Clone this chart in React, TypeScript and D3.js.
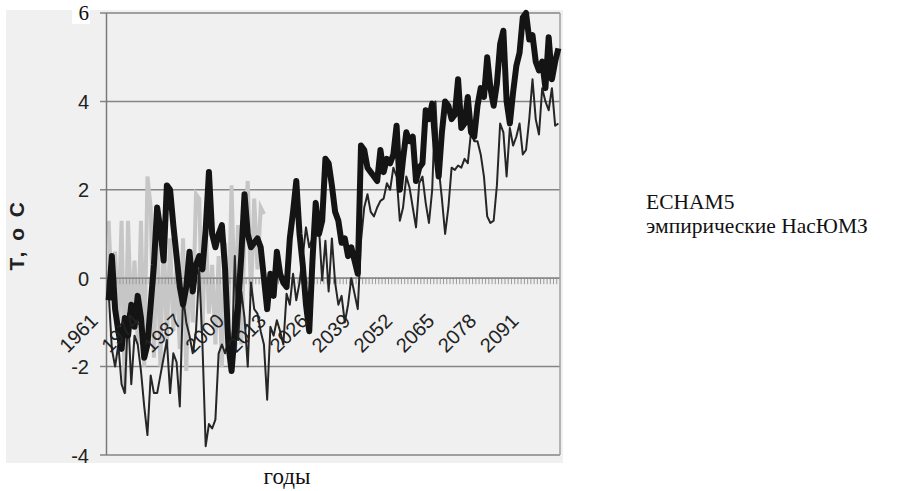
import React from "react";
import * as d3 from "d3";

const years: number[] = d3.range(1961, 2101);

const echam5: number[] = [
  -0.5, 0.5, -0.7, -1.2, -1.6, -0.9, -1.3, -0.6, -1.1, -0.4,
  -0.9, -1.8, -1.5, -0.6, 0.3, 1.6, 1.1, 0.4, 2.1, 2.0,
  1.2, 0.5, -0.2, -0.6, -0.2, 0.6, -0.3, 0.3, 0.5, 0.2,
  1.1, 2.4, 1.0, 0.7, 1.0, 1.2, 0.2, -1.5, -2.1, -1.2,
  -0.6, 0.5, 1.9, 1.0, 0.7, 0.8, 0.9, 0.7, 0.0, -0.7,
  0.1, -0.4, 0.6, 0.1, -0.1, -0.2, 0.9, 1.5, 2.2, 1.0,
  0.3, -0.6, -1.2, 0.4, 1.7, 1.0, 1.3, 2.7, 2.6, 2.1,
  1.5, 1.3, 0.8, 0.9, 0.5, 0.7, 0.4, 0.1, 3.0, 2.9,
  2.5, 2.4, 2.3, 2.2, 2.9, 2.4, 2.7, 2.6, 2.8, 3.45,
  2.0, 2.7, 3.3, 3.1, 3.2, 2.2, 2.5, 2.6, 3.8, 3.6,
  3.95, 3.0, 2.3, 3.3, 4.0, 3.9, 3.6, 3.7, 4.5, 3.4,
  3.5, 4.1, 3.3, 3.2, 3.9, 4.3, 4.1, 5.0, 4.3, 3.9,
  4.4, 5.3, 5.6, 4.0, 3.5, 4.2, 4.8, 5.1, 5.9, 6.0,
  5.4, 5.5, 4.9, 4.7, 4.9, 4.3, 5.45, 4.5, 4.9, 5.2,
];

const empirical: number[] = [
  -0.3, -1.6, -2.0, -1.5, -2.4, -2.6, -0.8, -2.4, -1.3, -1.5,
  -2.1, -2.9, -3.55, -2.2, -2.6, -2.6, -2.2, -1.8, -1.4, -2.6,
  -1.7, -1.9, -2.9, -0.4, -1.0, -1.3, -1.7, -1.2, 0.2, -1.5,
  -3.8, -3.3, -3.4, -3.2, -1.7, -1.5, -1.7, -1.4, -2.0, 0.5,
  -1.4, -0.3, -0.9, -2.0, -0.1, -0.7, -0.8, -1.2, -1.5, -2.75,
  -1.1, -1.3, -0.95, -1.2, -1.5, -0.35, -0.6, 0.1, -0.5, -0.1,
  0.5, 1.15, 0.7, 0.9, 1.75, 1.15, -0.05, 0.85, -0.3, 0.9,
  -0.1, -0.6, -0.4, -1.0, -0.6, 0.0, -0.35, -0.7, 0.85, 1.6,
  1.9, 1.5, 1.4, 1.6, 1.75, 1.8, 2.15, 2.0, 2.5, 2.3,
  1.3, 1.6, 2.3, 2.05, 1.6, 1.15, 2.15, 2.3, 1.7, 1.25,
  2.0, 4.0, 2.5, 1.8, 1.0, 1.6, 2.5, 2.45, 2.55, 2.5,
  2.7, 2.6, 3.3, 3.1, 3.1, 2.8, 2.3, 1.4, 1.25, 1.3,
  2.1, 3.5, 3.3, 2.3, 3.4, 3.0, 3.2, 3.5, 2.8, 2.9,
  3.6, 4.5, 3.6, 3.25, 4.3, 4.0, 3.8, 4.3, 3.45, 3.5,
];

const observed: number[] = [
  1.3, -0.5, 0.6, -1.2, 1.3, -2.6, 1.3, -1.0, 0.4, -1.5,
  1.3, -2.0, 2.3, 1.6, -1.8, 1.0, -2.0, 1.2, -1.5, 0.9,
  -1.2, 0.3, -1.6, 0.9, -2.1, 0.5, -1.0, 1.9, 1.8, -1.2,
  1.2, -0.8, 0.3, -1.5, 0.5, -2.0, 0.8, -1.0, 2.1, -0.8,
  1.2, -1.5, 1.0, 2.2, -0.4, 1.8, 0.2, 1.6, 1.45,
];

const yTicks: number[] = [-4, -2, 0, 2, 4, 6];
const xTickLabels: number[] = [1961, 1974, 1987, 2000, 2013, 2026, 2039, 2052, 2065, 2078, 2091];
const legendLabels: string[] = ["ECHAM5", "эмпирические НасЮМЗ"];

export default function App() {
  const x = d3.scaleBand<number>().domain(years).range([107, 560]).padding(0);
  const y = d3.scaleLinear().domain([-4, 6]).range([455, 13]);
  const bw = x.bandwidth();
  const cx = (yr: number) => (x(yr) as number) + bw / 2;

  const line = d3
    .line<number>()
    .x((_, i) => cx(years[i]))
    .y((v) => y(v));

  const sans = "'Liberation Sans', Arial, sans-serif";
  const serif = "'Liberation Serif', 'Times New Roman', serif";
  const y0 = y(0);

  return (
    <svg
      width={899}
      height={491}
      style={{ position: "absolute", left: 0, top: 0, background: "#fff" }}
    >
      <rect x={6} y={10} width={557} height={453} fill="#f0f0f0" />
      {/* gridlines */}
      {yTicks.map((t) => (
        <line key={"g" + t} x1={100} x2={560} y1={y(t)} y2={y(t)} stroke="#858585" strokeWidth={1.5} />
      ))}
      {/* observed series */}
      <path d={line(observed) || ""} fill="none" stroke="#c6c6c6" strokeWidth={4} strokeLinejoin="miter" />
      {/* category ticks on zero axis */}
      {years.map((yr) => (
        <line key={"t" + yr} x1={x(yr) as number} x2={x(yr) as number} y1={y0 - 1} y2={y0 + 6} stroke="#9a9a9a" strokeWidth={1} />
      ))}
      <line x1={107} x2={560} y1={y0} y2={y0} stroke="#8a8a8a" strokeWidth={1.5} />
      {/* frame */}
      <line x1={106.5} x2={106.5} y1={13} y2={455} stroke="#7a7a7a" strokeWidth={1.5} />
      <line x1={560} x2={560} y1={13} y2={455} stroke="#a0a0a0" strokeWidth={1.5} />
      {/* lines */}
      <path d={line(empirical) || ""} fill="none" stroke="#262626" strokeWidth={2} strokeLinejoin="round" />
      <path d={line(echam5) || ""} fill="none" stroke="#141414" strokeWidth={6} strokeLinejoin="round" />
      {/* y tick labels */}
      {yTicks.map((t) =>
        t === 6 ? (
          <g key={"yl" + t}>
            <rect x={72} y={4} width={18} height={20} fill="#fff" />
            <text x={89} y={y(t) + 7} textAnchor="end" fontFamily={serif} fontSize={21} fill="#111">
              {t}
            </text>
          </g>
        ) : (
          <text key={"yl" + t} x={89} y={y(t) + 7.5} textAnchor="end" fontFamily={sans} fontSize={20} fill="#222">
            {t}
          </text>
        )
      )}
      {/* x tick labels */}
      {xTickLabels.map((yr) => (
        <text
          key={"xl" + yr}
          transform={`translate(${cx(yr) - 9.5},${y0 + 44}) rotate(-45)`}
          textAnchor="end"
          fontFamily={sans}
          fontSize={20}
          fill="#222"
        >
          {yr}
        </text>
      ))}
      {/* axis titles */}
      <text
        transform="translate(24,235) rotate(-90)"
        textAnchor="middle"
        fontFamily={sans}
        fontWeight="bold"
        fontSize={21}
        letterSpacing={2.5}
        fill="#222"
      >
        T, o C
      </text>
      <text x={287} y={484} textAnchor="middle" fontFamily={serif} fontSize={23} fill="#111">
        годы
      </text>
      {/* legend */}
      {legendLabels.map((l, i) => (
        <text key={"lg" + i} x={646} y={209 + i * 24} fontFamily={serif} fontSize={21.5} fill="#111">
          {l}
        </text>
      ))}
    </svg>
  );
}
